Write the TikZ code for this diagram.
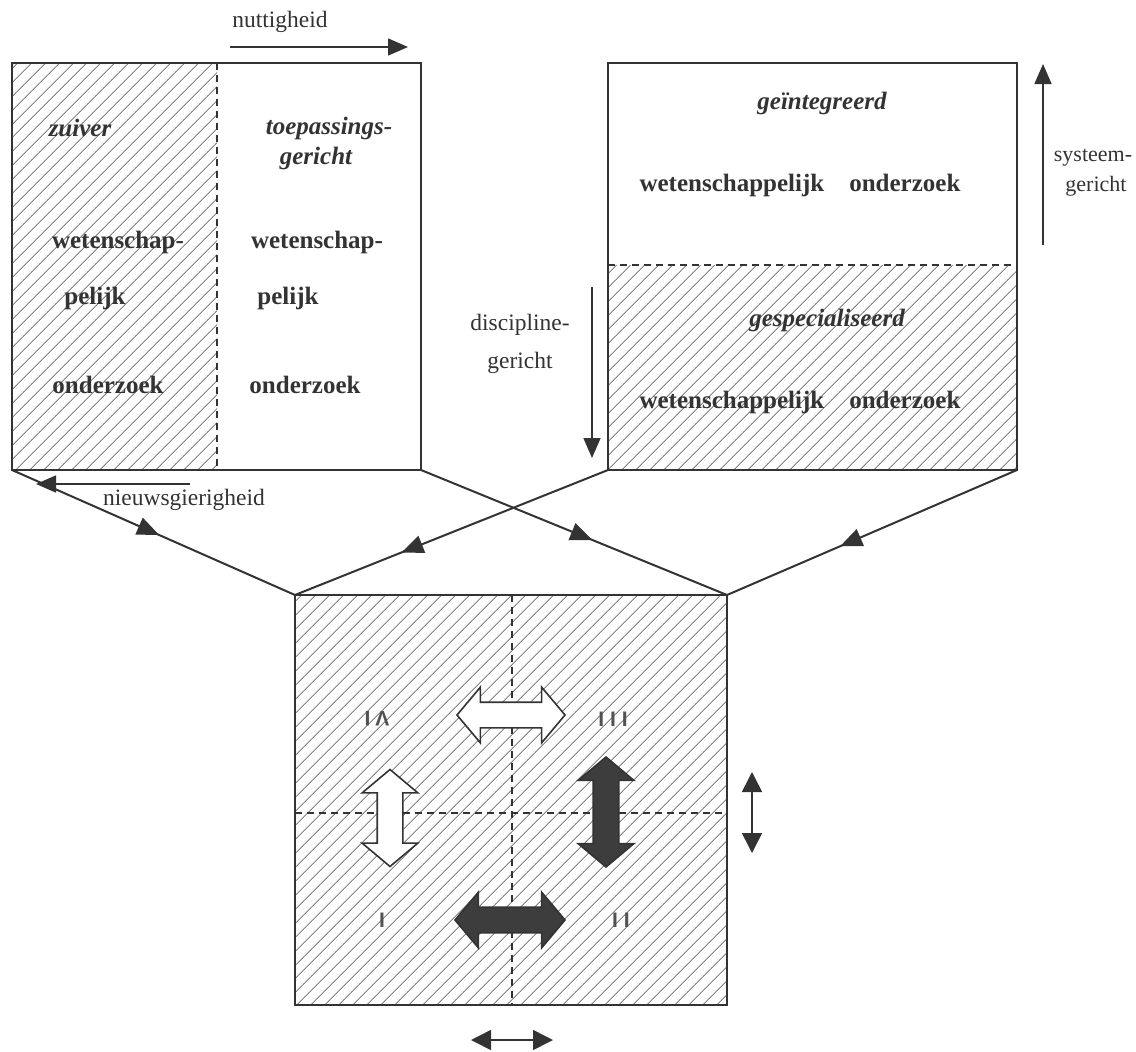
\documentclass[tikz,border=0pt]{standalone}
\usepackage{fontspec}
\setmainfont{Liberation Serif}
\setsansfont{Liberation Sans}
\usetikzlibrary{arrows.meta,patterns.meta,decorations.markings,shapes.arrows}

\definecolor{ink}{gray}{0.2}
\definecolor{hatchink}{gray}{0.3}

\begin{document}
\begin{tikzpicture}[x=1pt, y=-1pt,
    box/.style={line width=1.8pt, draw=ink},
    hatch/.style={pattern={Lines[angle=45,distance=10.5pt,line width=0.8pt]}, pattern color=hatchink},
    divider/.style={line width=1.2pt, draw=ink, dash pattern=on 7pt off 5pt},
    txt/.style={font=\fontsize{23.5}{27}\selectfont, text=ink, inner sep=0pt},
    bftxt/.style={font=\fontsize{25}{29}\selectfont\bfseries, text=ink, inner sep=0pt},
    bfit/.style={font=\fontsize{25}{29}\selectfont\bfseries\itshape, text=ink, inner sep=0pt},
    numeral/.style={font=\fontsize{21}{24}\selectfont\sffamily\bfseries, text=ink!85, inner sep=0pt},
    headtip/.style={-{Triangle[length=20pt,width=17pt]}, line width=1.6pt, draw=ink},
    bothtips/.style={{Triangle[length=20pt,width=20pt]}-{Triangle[length=20pt,width=20pt]}, line width=1.6pt, draw=ink},
    link/.style={line width=2pt, draw=ink, color=ink, postaction={decorate},
      decoration={markings, mark=at position #1 with {\arrow{Triangle[length=22pt,width=18pt]}}}},
    openarrow/.style={double arrow, draw=ink, line width=1.6pt, fill=white, minimum height=108pt,
      minimum width=0pt, inner xsep=0pt, inner ysep=12pt, double arrow head extend=15pt,
      double arrow tip angle=100},
    fullarrow/.style={openarrow, fill=ink!95}]
    \useasboundingbox (0,0) rectangle (1136,1052);

    % corners
    \coordinate (L-tl) at (12,63);   \coordinate (L-br) at (421,470);
    \coordinate (L-bl) at (12,470);
    \coordinate (R-tl) at (608,63);  \coordinate (R-br) at (1017,470);
    \coordinate (R-bl) at (608,470);
    \coordinate (B-tl) at (295,595); \coordinate (B-tr) at (727,595);
    \coordinate (B-br) at (727,1005);

    % left box: zuiver / toepassingsgericht
    \fill [hatch]    (L-tl) rectangle (217,470);                  %zuiver
    \draw [box]      (L-tl) rectangle (L-br);                     %
    \draw [divider]  (217,63) -- (217,470);                       %
    \node [bfit]  (zuiver)  at (80,128)  {zuiver};
    \node [bfit]  (toep)    at (329,128) {toepassings-};
    \node [bfit]  (toepger) at (316,158) {gericht};
    \node [bftxt] (wl1) at (118,242) {wetenschap-};
    \node [bftxt] (wl2) at (95,298)  {pelijk};
    \node [bftxt] (wl3) at (108,385) {onderzoek};
    \node [bftxt] (wr1) at (317,242) {wetenschap-};
    \node [bftxt] (wr2) at (288,298) {pelijk};
    \node [bftxt] (wr3) at (305,385) {onderzoek};

    \coordinate (nut-s) at (230,47); \coordinate (nut-e) at (408,47);
    \draw [headtip] (nut-s) -- (nut-e);                           %nuttigheid
    \node [txt] (nut) at (280,22) {nuttigheid};
    \coordinate (nw-s) at (190,484); \coordinate (nw-e) at (36,484);
    \draw [headtip] (nw-s) -- (nw-e);                             %nieuwsgierigheid
    \node [txt] (nieuw) at (184,500) {nieuwsgierigheid};

    % right box: geintegreerd / gespecialiseerd
    \fill [hatch]    (608,265) rectangle (R-br);                  %gespecialiseerd
    \draw [box]      (R-tl) rectangle (R-br);                     %
    \draw [divider]  (608,265) -- (1017,265);                     %
    \node [bfit]  (geint) at (822,103) {geïntegreerd};
    \node [bftxt] (wo1)   at (800,185) {wetenschappelijk\hspace{1em}onderzoek};
    \node [bfit]  (gesp)  at (827,320) {gespecialiseerd};
    \node [bftxt] (wo2)   at (800,402) {wetenschappelijk\hspace{1em}onderzoek};

    \coordinate (sys-s) at (1043,245); \coordinate (sys-e) at (1043,64);
    \draw [headtip] (sys-s) -- (sys-e);                           %systeemgericht
    \node [txt, font=\fontsize{22}{26}\selectfont] (sys1) at (1093,158) {systeem-};
    \node [txt, font=\fontsize{22}{26}\selectfont] (sys2) at (1096,186) {gericht};
    \coordinate (dis-s) at (592,287); \coordinate (dis-e) at (592,458);
    \draw [headtip] (dis-s) -- (dis-e);                           %disciplinegericht
    \node [txt] (dis1) at (520,325) {discipline-};
    \node [txt] (dis2) at (520,363) {gericht};

    % connectors
    \draw [link=0.52] (L-bl) -- (B-tl);
    \draw [link=0.56] (L-br) -- (B-tr);
    \draw [link=0.66] (R-bl) -- (B-tl);
    \draw [link=0.61] (R-br) -- (B-tr);

    % bottom box: four quadrants
    \fill [hatch]    (B-tl) rectangle (B-br);                     %
    \draw [box]      (B-tl) rectangle (B-br);                     %
    \draw [divider]  (512,595) -- (512,1005);                     %
    \draw [divider]  (295,813) -- (727,813);                      %
    \node [numeral] (q4) at (377,719) {\scalebox{1}[-1]{I\kern5pt V}};
    \node [numeral] (q3) at (613,719) {I\kern6pt I\kern6pt I};
    \node [numeral] (q1) at (382,920) {I};
    \node [numeral] (q2) at (621,920) {I\kern6pt I};

    \node [openarrow] (htop) at (511,715) {};
    \node [openarrow, rotate=90, minimum height=97pt] (vleft) at (390,818) {};
    \node [fullarrow, rotate=90, minimum height=110pt] (vright) at (606,812) {};
    \node [fullarrow, minimum height=110pt] (hbot) at (510,920) {};

    % small arrows outside
    \coordinate (up-s) at (752,772);  \coordinate (up-e) at (752,853);
    \draw [bothtips] (up-s) -- (up-e);
    \coordinate (lr-s) at (471,1040); \coordinate (lr-e) at (553,1040);
    \draw [bothtips] (lr-s) -- (lr-e);
\end{tikzpicture}
\end{document}
